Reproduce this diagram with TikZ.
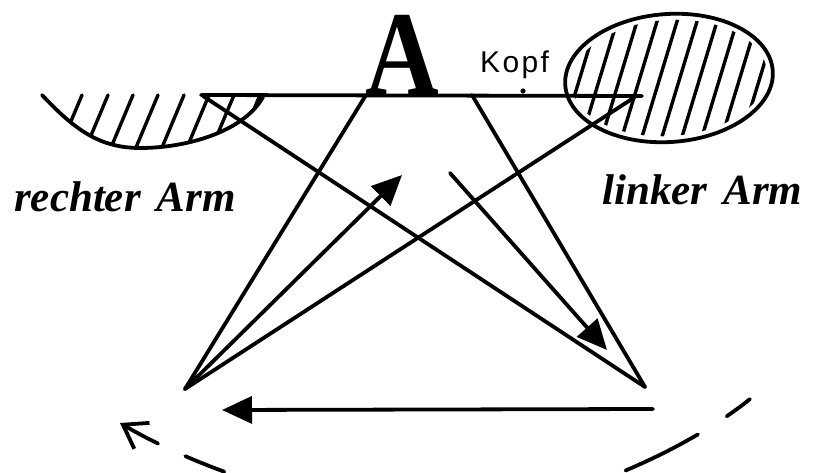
\documentclass[tikz,border=0pt]{standalone}
\usepackage{fontspec}
\setmainfont{Liberation Serif}
\newfontfamily\kopffont[LetterSpace=8]{Liberation Sans}
\usetikzlibrary{arrows.meta}
\begin{document}
\begin{tikzpicture}[x=1pt,y=-1pt,line cap=round,line join=round,
  stroke/.style={line width=3.8pt},
  hatchline/.style={line width=3.4pt},
  bigtip/.style={-{Triangle[length=30pt,width=27pt]}},
  lbl/.style={font=\fontsize{43}{48}\selectfont\bfseries\itshape,inner sep=0pt}]
\useasboundingbox (0,0) rectangle (820,473);
% coordinates
\coordinate (L) at (185,389);
\coordinate (R) at (645,387);
\coordinate (hl) at (201,95);
\coordinate (hr) at (642,96);
\coordinate (tA) at (366,95);
\coordinate (tB) at (472,95);
\coordinate (tC) at (635,97);
\coordinate (tD) at (203,96);
\coordinate (a1) at (402,175);
\coordinate (a2s) at (450,173);
\coordinate (a2e) at (607,350);
\coordinate (h1) at (653,409);
\coordinate (h2) at (222,410);
\coordinate (ke) at (523,91);
% left hatched bowl (rechter Arm)
\begin{scope}
  \clip (42,95) .. controls (75,130) and (100,148) .. (140,148)
        .. controls (190,148) and (245,130) .. (263,97) -- (263,92) -- (42,92) -- cycle;
  \foreach \x in {82,108,133,158,184,209,234,260}
    \draw[hatchline] (\x,95) -- ++(-26,62);
\end{scope}
\draw[stroke] (42,95) .. controls (75,130) and (100,148) .. (140,148)
      .. controls (190,148) and (245,130) .. (263,97);
% right hatched ellipse (Kopf)
\begin{scope}
  \clip (669,78) ellipse [x radius=98, y radius=58, rotate=4];
  \foreach \x in {560,580,...,790}
    \draw[hatchline] (\x+22,5) -- (\x-22,150);
\end{scope}
\draw[stroke] (669,78) ellipse [x radius=104, y radius=64, rotate=4];
% horizontal line
\draw[stroke] (hl) -- (hr);
\fill (ke) circle (2.6);
% the star lines
\draw[stroke] (L) -- (tA);
\draw[stroke,bigtip] (L) -- (a1);
\draw[stroke] (L) -- (tC);
\draw[stroke] (R) -- (tB);
\draw[stroke] (R) -- (tD);
\draw[stroke,bigtip] (a2s) -- (a2e);
\draw[stroke,bigtip] (h1) -- (h2);
% dashed arc
\draw[stroke,dash pattern=on 29pt off 34pt on 81pt off 600pt]
  (750,399) .. controls (700,440) and (580,505) .. (450,515);
\draw[stroke,{Straight Barb[length=22pt,width=30pt]}-,dash pattern=on 38pt off 30pt on 42pt off 600pt]
  (120,423) .. controls (200,470) and (330,515) .. (450,515);
% texts
\node[anchor=base,inner sep=0pt,font=\fontsize{120}{120}\selectfont\bfseries] (A) at (402,95) {\scalebox{0.85}[1]{A}};
\node[anchor=base west,inner sep=0pt,font=\kopffont\fontsize{30}{30}\selectfont] (kopf) at (480,73) {Kopf};
\node[lbl,anchor=base west] (rA) at (14,212) {rechter\hspace{16pt}Arm};
\node[lbl,anchor=base west] (lA) at (602,205) {linker\hspace{16pt}Arm};
\end{tikzpicture}
\end{document}
